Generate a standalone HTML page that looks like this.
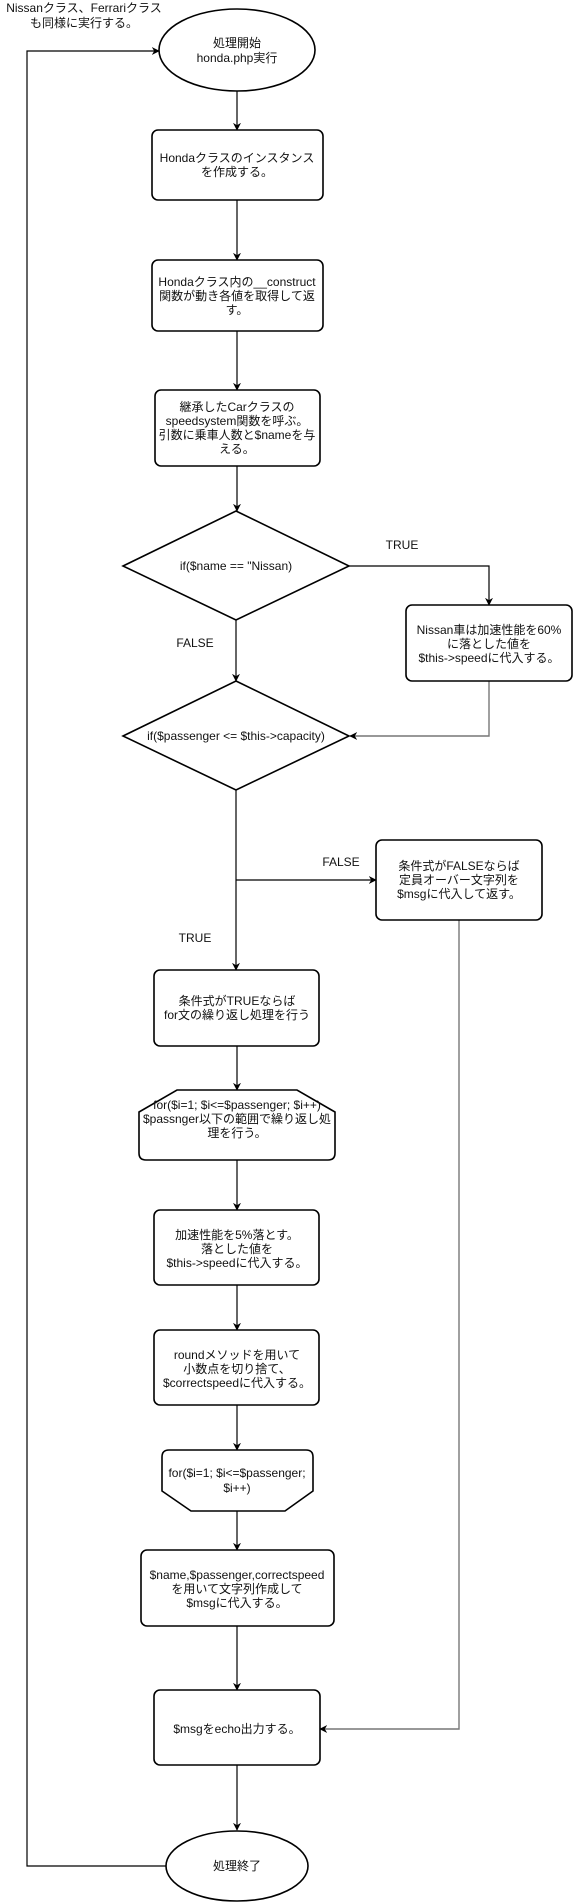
<!DOCTYPE html>
<html><head><meta charset="utf-8"><style>
html,body{margin:0;padding:0;background:#fff;}
svg{display:block;}
text{font-family:"Liberation Sans","Noto Sans CJK JP",sans-serif;font-size:12px;fill:#111;text-anchor:middle;dominant-baseline:central;}
.s{fill:#fff;stroke:#000;stroke-width:1.6;}
.l{fill:none;stroke:#000;stroke-width:1.2;}
.g{fill:none;stroke:#777;stroke-width:1.4;}
</style></head><body>
<svg width="573" height="1902" viewBox="0 0 573 1902" xmlns="http://www.w3.org/2000/svg">
<defs>
<marker id="a" viewBox="0 0 10 10" refX="9" refY="5" markerWidth="8" markerHeight="8" orient="auto" markerUnits="userSpaceOnUse"><path d="M0,0 L10,5 L0,10 L3,5 z" fill="#000"/></marker>
</defs>

<!-- connectors -->
<path class="l" d="M237,91 V130" marker-end="url(#a)"/>
<path class="l" d="M237,200 V260" marker-end="url(#a)"/>
<path class="l" d="M237,331 V390" marker-end="url(#a)"/>
<path class="l" d="M237,466 V511" marker-end="url(#a)"/>
<path class="l" d="M349,566 H489 V605" marker-end="url(#a)"/>
<path class="l" d="M236,620 V681" marker-end="url(#a)"/>
<path class="g" d="M489,681 V736 H350" marker-end="url(#a)"/>
<path class="l" d="M236,790 V970" marker-end="url(#a)"/>
<path class="l" d="M236,880 H376" marker-end="url(#a)"/>
<path class="g" d="M459,920 V1729 H320" marker-end="url(#a)"/>
<path class="l" d="M237,1046 V1090" marker-end="url(#a)"/>
<path class="l" d="M237,1160 V1210" marker-end="url(#a)"/>
<path class="l" d="M237,1285 V1330" marker-end="url(#a)"/>
<path class="l" d="M237,1405 V1450" marker-end="url(#a)"/>
<path class="l" d="M237,1511 V1550" marker-end="url(#a)"/>
<path class="l" d="M237,1626 V1690" marker-end="url(#a)"/>
<path class="l" d="M237,1765 V1830" marker-end="url(#a)"/>
<path class="l" d="M166,1866 H27 V51 H159" marker-end="url(#a)"/>

<!-- top-left note -->
<text x="84" y="8">Nissanクラス、Ferrariクラス</text>
<text x="84" y="23">も同様に実行する。</text>

<!-- start -->
<ellipse class="s" cx="237" cy="50" rx="78" ry="41"/>
<text x="237" y="43">処理開始</text>
<text x="237" y="58">honda.php実行</text>

<rect class="s" x="152" y="130" width="171" height="70" rx="6"/>
<text x="237" y="158">Hondaクラスのインスタンス</text>
<text x="237" y="172">を作成する。</text>

<rect class="s" x="152" y="260" width="171" height="71" rx="6"/>
<text x="237" y="282">Hondaクラス内の__construct</text>
<text x="237" y="296">関数が動き各値を取得して返</text>
<text x="237" y="310">す。</text>

<rect class="s" x="155" y="390" width="165" height="76" rx="6"/>
<text x="237" y="407">継承したCarクラスの</text>
<text x="237" y="421">speedsystem関数を呼ぶ。</text>
<text x="237" y="435">引数に乗車人数と$nameを与</text>
<text x="237" y="449">える。</text>

<polygon class="s" points="236,511 349,566 236,620 123,566"/>
<text x="236" y="566">if($name == "Nissan)</text>
<text x="402" y="545">TRUE</text>
<text x="195" y="643">FALSE</text>

<rect class="s" x="406" y="605" width="166" height="76" rx="6"/>
<text x="489" y="630">Nissan車は加速性能を60%</text>
<text x="489" y="644">に落とした値を</text>
<text x="489" y="658">$this-&gt;speedに代入する。</text>

<polygon class="s" points="236,681 349,736 236,790 123,736"/>
<text x="236" y="736">if($passenger &lt;= $this-&gt;capacity)</text>

<rect class="s" x="376" y="840" width="166" height="80" rx="6"/>
<text x="459" y="866">条件式がFALSEならば</text>
<text x="459" y="880">定員オーバー文字列を</text>
<text x="459" y="894">$msgに代入して返す。</text>
<text x="341" y="862">FALSE</text>
<text x="195" y="938">TRUE</text>

<rect class="s" x="154" y="970" width="165" height="76" rx="6"/>
<text x="237" y="1001">条件式がTRUEならば</text>
<text x="237" y="1015">for文の繰り返し処理を行う</text>

<path class="s" d="M177,1090 H297 L335,1112 V1153 Q335,1160 328,1160 H146 Q139,1160 139,1153 V1112 Z"/>
<text x="237" y="1105">for($i=1; $i&lt;=$passenger; $i++)</text>
<text x="237" y="1119">$passnger以下の範囲で繰り返し処</text>
<text x="237" y="1133">理を行う。</text>

<rect class="s" x="154" y="1210" width="165" height="75" rx="6"/>
<text x="237" y="1235">加速性能を5%落とす。</text>
<text x="237" y="1249">落とした値を</text>
<text x="237" y="1263">$this-&gt;speedに代入する。</text>

<rect class="s" x="154" y="1330" width="165" height="75" rx="6"/>
<text x="237" y="1355">roundメソッドを用いて</text>
<text x="237" y="1369">小数点を切り捨て、</text>
<text x="237" y="1383">$correctspeedに代入する。</text>

<path class="s" d="M169,1450 H306 Q313,1450 313,1457 V1491 L285,1511 H191 L162,1491 V1457 Q162,1450 169,1450 Z"/>
<text x="237" y="1473">for($i=1; $i&lt;=$passenger;</text>
<text x="237" y="1488">$i++)</text>

<rect class="s" x="141" y="1550" width="193" height="76" rx="6"/>
<text x="237" y="1575">$name,$passenger,correctspeed</text>
<text x="237" y="1589">を用いて文字列作成して</text>
<text x="237" y="1603">$msgに代入する。</text>

<rect class="s" x="154" y="1690" width="166" height="75" rx="6"/>
<text x="237" y="1729">$msgをecho出力する。</text>

<ellipse class="s" cx="237" cy="1866" rx="71" ry="35"/>
<text x="237" y="1866">処理終了</text>
</svg>
</body></html>
